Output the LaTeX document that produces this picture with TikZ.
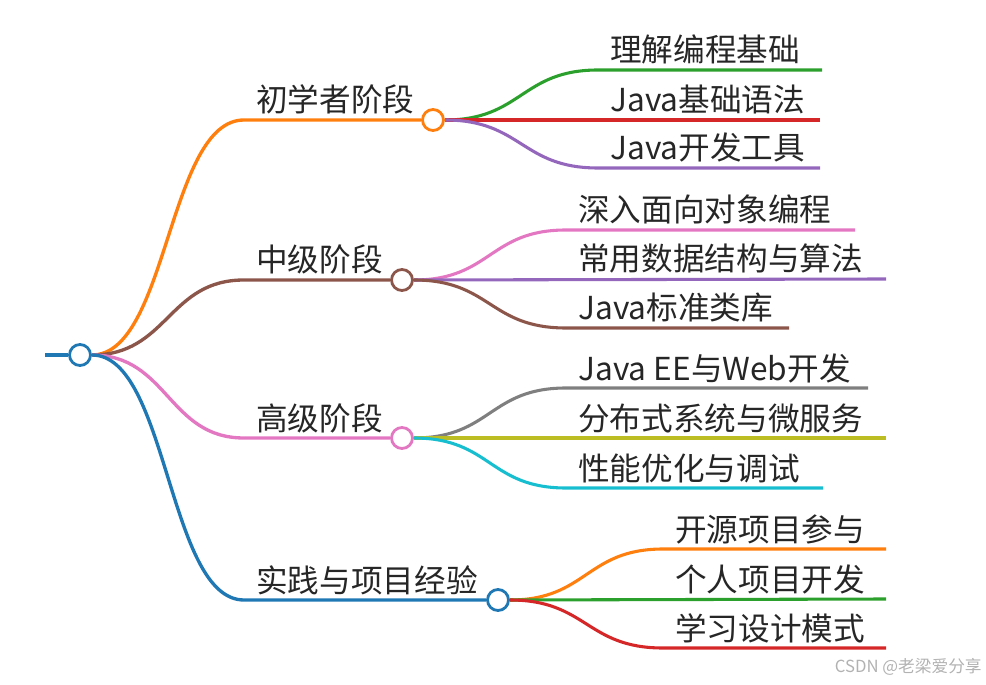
\documentclass[tikz,border=0pt]{standalone}
\usepackage{fontspec}
\setmainfont{Noto Sans CJK SC}
\usepackage{tikz}
\usetikzlibrary{positioning,calc,backgrounds}
\definecolor{mmblue}{HTML}{1F77B4}
\definecolor{mmorange}{HTML}{FF7F0E}
\definecolor{mmgreen}{HTML}{2CA02C}
\definecolor{mmred}{HTML}{D62728}
\definecolor{mmpurple}{HTML}{9467BD}
\definecolor{mmbrown}{HTML}{8C564B}
\definecolor{mmpink}{HTML}{E377C2}
\definecolor{mmgray}{HTML}{7F7F7F}
\definecolor{mmolive}{HTML}{BCBD22}
\definecolor{mmcyan}{HTML}{17BECF}
\tikzset{
  knot/.style={circle, draw=#1, fill=white, line width=1.6pt,
               minimum size=0.42cm, inner sep=0pt},
  lbl/.style={anchor=base west, inner sep=0pt, text=black!85,
              font=\fontsize{18}{20}\selectfont},
  rlink/.style={line width=2.2pt, draw=#1},
  blink/.style={line width=1.9pt, draw=#1},
  llink/.style={line width=1.75pt, draw=#1},
  wmark/.style={anchor=east, inner sep=0pt, text=black!30,
                font=\fontsize{9.5}{11}\selectfont},
}

\begin{document}
\begin{tikzpicture}[x=0.02cm, y=-0.02cm]
  \useasboundingbox (0,0) rectangle (986,685);

  % root
  \coordinate (rs) at (45,355);
  \node[knot=mmblue] (root) at (80,355) {};

  % first level
  \coordinate (b1s) at (244,120);
  \coordinate (b2s) at (244,280);
  \coordinate (b3s) at (244,438);
  \coordinate (b4s) at (244,600);
  \node[knot=mmorange] (b1) at (433,120) {};
  \node[knot=mmbrown]  (b2) at (402,280) {};
  \node[knot=mmpink]   (b3) at (402,438) {};
  \node[knot=mmblue]   (b4) at (498,600) {};
  \node[lbl] (b1t) at (256,112) {初学者阶段};
  \node[lbl] (b2t) at (256,272) {中级阶段};
  \node[lbl] (b3t) at (256,430) {高级阶段};
  \node[lbl] (b4t) at (256,592) {实践与项目经验};

  % leaves
  \coordinate (l11s) at (598,70);  \coordinate (l11e) at (822,70);
  \coordinate (l12s) at (598,120); \coordinate (l12e) at (820,120);
  \coordinate (l13s) at (598,168); \coordinate (l13e) at (820,168);
  \node[lbl] (l11) at (610,62)  {理解编程基础};
  \node[lbl] (l12) at (610,112) {Java基础语法};
  \node[lbl] (l13) at (610,160) {Java开发工具};

  \coordinate (l21s) at (566,230); \coordinate (l21e) at (855,230);
  \coordinate (l22s) at (566,279); \coordinate (l22e) at (886,279);
  \coordinate (l23s) at (566,328); \coordinate (l23e) at (789,328);
  \node[lbl] (l21) at (578,222) {深入面向对象编程};
  \node[lbl] (l22) at (578,271) {常用数据结构与算法};
  \node[lbl] (l23) at (578,320) {Java标准类库};

  \coordinate (l31s) at (566,388); \coordinate (l31e) at (868,388);
  \coordinate (l32s) at (566,438); \coordinate (l32e) at (886,438);
  \coordinate (l33s) at (566,488); \coordinate (l33e) at (823,488);
  \node[lbl] (l31) at (578,380) {Java EE与Web开发};
  \node[lbl] (l32) at (578,430) {分布式系统与微服务};
  \node[lbl] (l33) at (578,480) {性能优化与调试};

  \coordinate (l41s) at (663,549); \coordinate (l41e) at (886,549);
  \coordinate (l42s) at (663,599); \coordinate (l42e) at (886,599);
  \coordinate (l43s) at (663,648); \coordinate (l43e) at (886,648);
  \node[lbl] (l41) at (675,541) {开源项目参与};
  \node[lbl] (l42) at (675,591) {个人项目开发};
  \node[lbl] (l43) at (675,640) {学习设计模式};

  % links, behind the circles
  \begin{pgfonlayer}{background}
  \draw[rlink=mmblue] (rs) -- (root.west);
  \draw[blink=mmorange] (root.east) .. controls +(76,0) and +(-76,0) .. (b1s) -- (b1.west);
  \draw[blink=mmbrown]  (root.east) .. controls +(76,0) and +(-76,0) .. (b2s) -- (b2.west);
  \draw[blink=mmpink]   (root.east) .. controls +(76,0) and +(-76,0) .. (b3s) -- (b3.west);
  \draw[blink=mmblue]   (root.east) .. controls +(76,0) and +(-76,0) .. (b4s) -- (b4.west);

  \draw[llink=mmgreen]  (b1.east) .. controls +(77,0) and +(-77,0) .. (l11s) -- (l11e);
  \draw[llink=mmred]    (b1.east) -- (l12e);
  \draw[llink=mmpurple] (b1.east) .. controls +(77,0) and +(-77,0) .. (l13s) -- (l13e);

  \draw[llink=mmpink]   (b2.east) .. controls +(77,0) and +(-77,0) .. (l21s) -- (l21e);
  \draw[llink=mmpurple] (b2.east) -- (l22e);
  \draw[llink=mmbrown]  (b2.east) .. controls +(77,0) and +(-77,0) .. (l23s) -- (l23e);

  \draw[llink=mmgray]   (b3.east) .. controls +(77,0) and +(-77,0) .. (l31s) -- (l31e);
  \draw[llink=mmolive]  (b3.east) -- (l32e);
  \draw[llink=mmcyan]   (b3.east) .. controls +(77,0) and +(-77,0) .. (l33s) -- (l33e);

  \draw[llink=mmorange] (b4.east) .. controls +(77,0) and +(-77,0) .. (l41s) -- (l41e);
  \draw[llink=mmgreen]  (b4.east) -- (l42e);
  \draw[llink=mmred]    (b4.east) .. controls +(77,0) and +(-77,0) .. (l43s) -- (l43e);
  \end{pgfonlayer}

  \node[wmark] (wm) at (982,667) {CSDN @老梁爱分享};
\end{tikzpicture}
\end{document}
